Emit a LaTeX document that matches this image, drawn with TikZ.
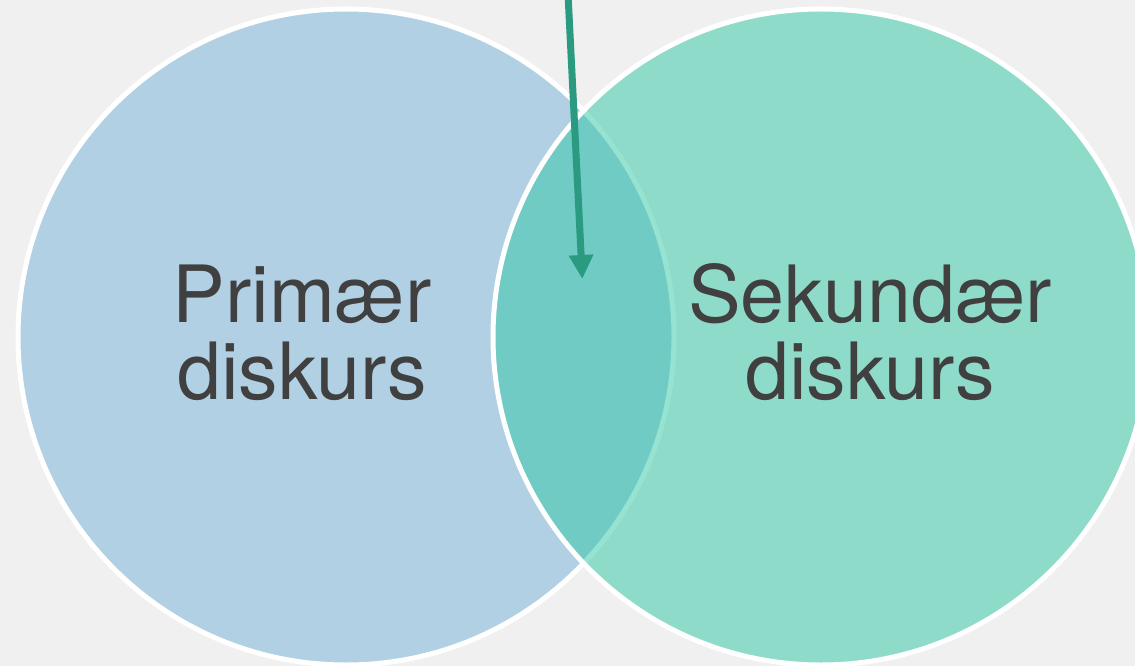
\documentclass[tikz,border=0pt]{standalone}
\usepackage{fontspec}
\setmainfont{TeX Gyre Heros}
\usetikzlibrary{arrows.meta}
\definecolor{bgc}{RGB}{240,240,240}
\definecolor{blueset}{RGB}{178,208,228}
\definecolor{tealset}{RGB}{48,200,166}
\definecolor{arrowc}{RGB}{42,154,128}
\definecolor{textc}{RGB}{64,64,64}
\tikzset{
  setcircle/.style={circle, minimum size=656pt, inner sep=0pt, outer sep=0pt, draw=white, line width=5pt},
  setlabel/.style={align=center, inner sep=0pt, text=textc, font=\fontsize{79}{77}\selectfont, anchor=base},
  pointer/.style={draw=arrowc, line width=7pt, -{Triangle[length=24pt,width=23pt]}}
}
\begin{document}
\begin{tikzpicture}[x=1pt,y=-1pt]
\useasboundingbox (0,0) rectangle (1135,666);
\clip (0,0) rectangle (1135,666);
\fill[bgc] (0,0) rectangle (1135,666);
\node[setcircle, fill=blueset] (primary) at (346,337) {};
\node[setcircle, fill=tealset, fill opacity=0.5] (secondary) at (821,337) {};
\node[setlabel] (plabel) at (302,399) {Primær\\diskurs};
\node[setlabel] (slabel) at (870,399) {Sekundær\\diskurs};
\coordinate (start) at (567.8,-10);
\coordinate (overlap) at (582.3,279);
\draw[pointer] (start) -- (overlap);
\end{tikzpicture}
\end{document}
